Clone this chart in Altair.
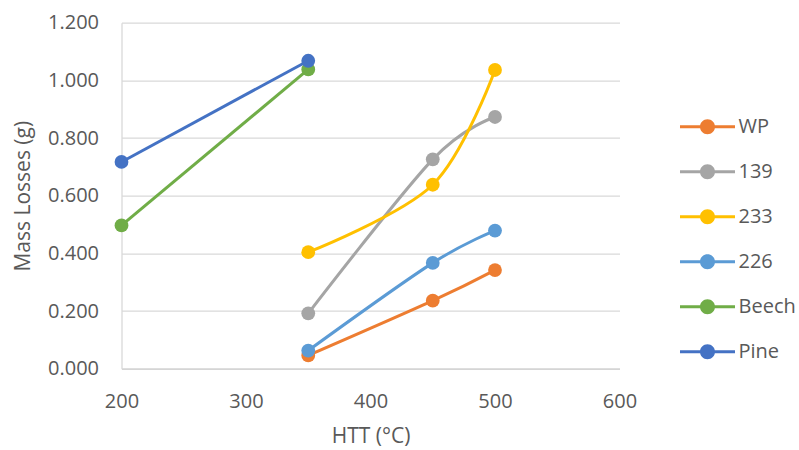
import altair as alt
import pandas as pd

# Heat treatment temperature (°C) and mass losses (g) per sample series
series_names = ["WP", "139", "233", "226", "Beech", "Pine"]
series_colors = ["#ED7D31", "#A5A5A5", "#FFC000", "#5B9BD5", "#70AD47", "#4472C4"]

wp_htt = [350, 450, 500]
wp_loss = [0.046, 0.236, 0.342]

s139_htt = [350, 450, 500]
s139_loss = [0.192, 0.726, 0.873]

s233_htt = [350, 450, 500]
s233_loss = [0.404, 0.638, 1.036]

s226_htt = [350, 450, 500]
s226_loss = [0.063, 0.367, 0.479]

beech_htt = [200, 350]
beech_loss = [0.497, 1.038]

pine_htt = [200, 350]
pine_loss = [0.717, 1.068]

x_ticks = [200, 300, 400, 500, 600]
y_ticks = [0.0, 0.2, 0.4, 0.6, 0.8, 1.0, 1.2]

rows = []
for order, (name, xs, ys) in enumerate([
    ("WP", wp_htt, wp_loss),
    ("139", s139_htt, s139_loss),
    ("233", s233_htt, s233_loss),
    ("226", s226_htt, s226_loss),
    ("Beech", beech_htt, beech_loss),
    ("Pine", pine_htt, pine_loss),
]):
    for x, y in zip(xs, ys):
        rows.append({"series": name, "order": order, "htt": x, "loss": y})
df = pd.DataFrame(rows)

FONT = "Open Sans"
TEXT = "#595959"

color_scale = alt.Scale(domain=series_names, range=series_colors)

x_enc = alt.X(
    "htt:Q",
    scale=alt.Scale(domain=[200, 600], nice=False, zero=False),
    axis=alt.Axis(
        title="HTT (°C)", values=x_ticks, grid=False, ticks=False,
        labelFlush=False, labelOverlap=False,
        domainColor="#D0D0D0", domainWidth=1.3,
        labelPadding=23, titlePadding=14,
    ),
)
y_enc = alt.Y(
    "loss:Q",
    scale=alt.Scale(domain=[0, 1.2], nice=False),
    axis=alt.Axis(
        title="Mass Losses (g)", values=y_ticks, format=".3f", ticks=False,
        labelFlush=False, labelOverlap=False,
        gridColor="#D9D9D9", gridWidth=1.3,
        domainColor="#D9D9D9", domainWidth=1.3,
        labelPadding=23, titlePadding=14,
    ),
)

# legend glyph: a short line with a dot in the middle, both filled shapes
legend_glyph = (
    "M-3.667,-0.2L3.667,-0.2L3.667,0.2L-3.667,0.2Z"
    "M-1,0A1,1,0,1,1,1,0A1,1,0,1,1,-1,0Z"
)

legend = alt.Legend(
    title=None, orient="none", legendX=576, legendY=94,
    symbolType=legend_glyph, symbolSize=225, symbolStrokeWidth=0,
    symbolOpacity=1,
    labelFont=FONT, labelFontSize=20, labelColor=TEXT,
    labelOffset=21, rowPadding=25, padding=0,
)

lines = alt.Chart(df).mark_line(
    interpolate="cardinal", strokeWidth=3
).encode(
    x=x_enc, y=y_enc,
    color=alt.Color("series:N", scale=color_scale, legend=legend),
    detail="series:N",
    order="order:Q",
)

points = alt.Chart(df).mark_point(
    filled=True, size=190, opacity=1, shape="circle"
).encode(
    x=x_enc, y=y_enc,
    color=alt.Color("series:N", scale=color_scale, legend=legend),
    order="order:Q",
)

chart = alt.layer(lines, points).properties(
    width=498, height=346,
    autosize="none",
    padding={"left": 121.5, "top": 22.7, "right": 179.5, "bottom": 81.3},
).configure_view(
    stroke=None
).configure_axis(
    labelFont=FONT, labelFontSize=20, labelColor=TEXT,
    titleFont=FONT, titleFontSize=21, titleColor=TEXT, titleFontWeight="normal",
)

chart.save("out.html", embed_options={"renderer": "svg", "actions": False})
